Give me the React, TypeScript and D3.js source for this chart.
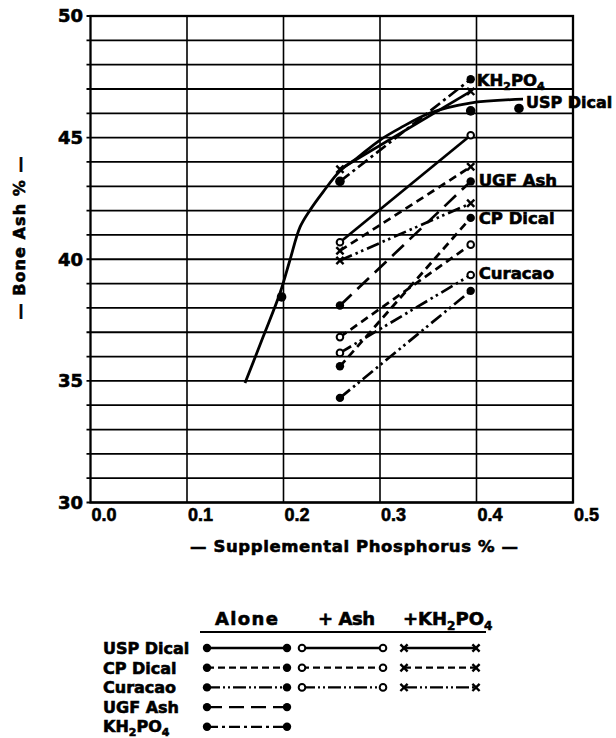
import React from "react";
import * as d3 from "d3";

// ---------- data ----------
const xTicks = [0, 0.1, 0.2, 0.3, 0.4, 0.5];
const xTickLabels = ["0.0", "0.1", "0.2", "0.3", "0.4", "0.5"];
const yTicks = [30, 35, 40, 45, 50];
const yTickLabels = ["30", "35", "40", "45", "50"];

const pLevels = [0.2585, 0.394];

const uspAshValues = [40.7, 45.1];
const uspKhValues = [43.7, 46.9];
const cpAloneValues = [35.6, 41.7];
const cpAshValues = [36.8, 40.6];
const cpKhValues = [40.35, 43.8];
const curAloneValues = [34.3, 38.7];
const curAshValues = [36.15, 39.35];
const curKhValues = [39.95, 42.3];
const ugfAloneValues = [38.1, 43.2];
const khAloneValues = [43.2, 47.4];

const uspAloneX = [0.198, 0.2585, 0.394, 0.444];
const uspAloneY = [38.45, 43.2, 46.1, 46.2];

const uspCurveX = [0.1601, 0.1788, 0.1964, 0.2067, 0.2171, 0.2275, 0.2409, 0.2585, 0.2762, 0.3, 0.3207, 0.3518, 0.3933, 0.4482];
const uspCurveY = [34.91, 36.8, 38.61, 39.97, 41.32, 42.02, 42.76, 43.63, 44.16, 44.9, 45.39, 46.01, 46.42, 46.58];

const sourceNames = ["USP Dical", "CP Dical", "Curacao", "UGF Ash", "KH2PO4"];
const treatmentNames = ["Alone", "+ Ash", "+KH2PO4"];

// ---------- styles ----------
const DASH: Record<string, string> = {
  solid: "",
  dashed: "8,5",
  dashdotdot: "13,4,2.5,3.5,2.5,4",
  longdash: "16,8",
  dashdot: "12,4,3,4",
};
const LEG_DASH: Record<string, string> = {
  solid: "",
  dashed: "7,4",
  dashdotdot: "13,3,2,3,2,3",
  longdash: "15,7",
  dashdot: "11,4,3,4",
};

type Series = { vals: number[]; style: string; marker: "filled" | "open" | "x" };
const series: Series[] = [
  { vals: uspAshValues, style: "solid", marker: "open" },
  { vals: uspKhValues, style: "solid", marker: "x" },
  { vals: cpAloneValues, style: "dashed", marker: "filled" },
  { vals: cpAshValues, style: "dashed", marker: "open" },
  { vals: cpKhValues, style: "dashed", marker: "x" },
  { vals: curAloneValues, style: "dashdotdot", marker: "filled" },
  { vals: curAshValues, style: "dashdotdot", marker: "open" },
  { vals: curKhValues, style: "dashdotdot", marker: "x" },
  { vals: ugfAloneValues, style: "longdash", marker: "filled" },
  { vals: khAloneValues, style: "dashdot", marker: "filled" },
];

const FONT = "'DejaVu Sans', sans-serif";
const FONT2 = "'Liberation Sans', Arial, sans-serif";

function Marker({ x, y, kind, r = 4.2 }: { x: number; y: number; kind: string; r?: number }) {
  if (kind === "filled") return <circle cx={x} cy={y} r={r} fill="#000" />;
  if (kind === "open")
    return <circle cx={x} cy={y} r={r - 0.9} fill="#fff" stroke="#000" strokeWidth={2} />;
  const s = 3.6;
  return (
    <g stroke="#000" strokeWidth={2.4}>
      <line x1={x - s} y1={y - s} x2={x + s} y2={y + s} />
      <line x1={x - s} y1={y + s} x2={x + s} y2={y - s} />
    </g>
  );
}

export default function App() {
  const W = 616;
  const H = 738;
  const x = d3.scaleLinear().domain([0, 0.5]).range([90.5, 573]);
  const y = d3.scaleLinear().domain([30, 50]).range([502.5, 16]);
  const gridY = d3.range(30, 51, 1);

  const curve = d3
    .line<number>()
    .x((_, i) => x(uspCurveX[i]))
    .y((d) => y(d))
    .curve(d3.curveCatmullRom.alpha(0.5));

  const seg = d3
    .line<number>()
    .x((_, i) => x(pLevels[i]))
    .y((d) => y(d));

  // legend geometry
  const legRowY = (i: number) => 648 + i * 19.7;
  const legCols = [
    [207, 287],
    [302, 383],
    [404, 476],
  ];
  const legStyles = ["solid", "dashed", "dashdotdot", "longdash", "dashdot"];
  const legMarkers = ["filled", "open", "x"];
  const legCount = [3, 3, 3, 1, 1];

  const labelX = x(pLevels[1]) + 8;

  return (
    <svg
      width={W}
      height={H}
      style={{ position: "absolute", left: 0, top: 0, background: "#fff" }}
      fontFamily={FONT}
      fontWeight="bold"
    >
      {/* grid */}
      {gridY.map((v) => (
        <line key={"h" + v} x1={x(0) - 4} x2={x(0.5)} y1={y(v)} y2={y(v)} stroke="#000" strokeWidth={1.8} />
      ))}
      {xTicks.slice(1, -1).map((t) => (
        <line key={"v" + t} x1={x(t)} x2={x(t)} y1={y(50)} y2={y(30)} stroke="#000" strokeWidth={1.6} />
      ))}
      <rect x={x(0)} y={y(50)} width={x(0.5) - x(0)} height={y(30) - y(50)} fill="none" stroke="#000" strokeWidth={2.3} />

      <g stroke="#000" strokeWidth={0.6}>
        {/* y ticks */}
        {yTicks.map((t, i) => (
          <text key={"yt" + t} x={83} y={y(t)} dy="0.36em" textAnchor="end" fontSize={18} fontFamily={FONT}>
            {yTickLabels[i]}
          </text>
        ))}
        {/* x ticks */}
        {xTicks.map((t, i) => (
          <text key={"xt" + t} x={x(t) + 1} y={521} textAnchor="start" fontSize={18} fontFamily={FONT2}>
            {xTickLabels[i]}
          </text>
        ))}

        {/* axis titles */}
        <text x={190} y={552} fontSize={16.5} textLength={328} lengthAdjust="spacing">
          — Supplemental  Phosphorus % —
        </text>
        <text transform="translate(25,238) rotate(-90)" textAnchor="middle" fontSize={16} textLength={163} lengthAdjust="spacing">
          — Bone Ash % —
        </text>

        {/* in-plot labels */}
        <text x={labelX - 2} y={y(khAloneValues[1]) + 7} fontSize={16.5}>
          KH<tspan fontSize={11} dy={4}>2</tspan>
          <tspan dy={-4}>PO</tspan>
          <tspan fontSize={11} dy={4}>4</tspan>
        </text>
        <text x={x(uspCurveX[uspCurveX.length - 1]) + 3} y={y(uspCurveY[uspCurveY.length - 1]) + 9} fontSize={16}>
          USP Dical
        </text>
        <text x={labelX} y={y(ugfAloneValues[1]) + 5} fontSize={16.5}>
          UGF Ash
        </text>
        <text x={labelX} y={y(cpAloneValues[1]) + 6} fontSize={16.5}>
          CP Dical
        </text>
        <text x={labelX} y={y(curAshValues[1]) + 4} fontSize={16.5}>
          Curacao
        </text>

        {/* legend header */}
        <text x={215} y={625} fontSize={18} textLength={63} lengthAdjust="spacing">
          {treatmentNames[0]}
        </text>
        <text x={318} y={625} fontSize={18} textLength={57} lengthAdjust="spacing">
          {treatmentNames[1]}
        </text>
        <text x={403} y={625} fontSize={18}>
          +KH<tspan fontSize={12} dy={5}>2</tspan>
          <tspan dy={-5}>PO</tspan>
          <tspan fontSize={12} dy={5}>4</tspan>
        </text>

        {sourceNames.map((name, r) =>
          name === "KH2PO4" ? (
            <text key={"ln" + r} x={103} y={legRowY(r) + 5} fontSize={16}>
              KH<tspan fontSize={11} dy={4}>2</tspan>
              <tspan dy={-4}>PO</tspan>
              <tspan fontSize={11} dy={4}>4</tspan>
            </text>
          ) : (
            <text key={"ln" + r} x={103} y={legRowY(r) + 6} fontSize={16}>
              {name}
            </text>
          )
        )}
      </g>

      {/* USP Dical alone fitted curve */}
      <path d={curve(uspCurveY) || ""} fill="none" stroke="#000" strokeWidth={2.8} />

      {/* series segments */}
      {series.map((s, i) => (
        <path
          key={"s" + i}
          d={seg(s.vals) || ""}
          fill="none"
          stroke="#000"
          strokeWidth={2.7}
          strokeDasharray={DASH[s.style]}
        />
      ))}
      {series.map((s, i) =>
        s.vals.map((v, j) => <Marker key={"m" + i + "-" + j} x={x(pLevels[j])} y={y(v)} kind={s.marker} />)
      )}
      {uspAloneX.map((px, i) => (
        <Marker key={"u" + i} x={x(px)} y={y(uspAloneY[i])} kind="filled" r={4.8} />
      ))}

      {/* legend */}
      <line x1={200} x2={486} y1={632} y2={632} stroke="#000" strokeWidth={2} />
      {sourceNames.map((name, r) => (
        <g key={"lg" + r}>
          {d3.range(legCount[r]).map((c) => (
            <g key={"lc" + c}>
              <line
                x1={legCols[c][0]}
                x2={legCols[c][1]}
                y1={legRowY(r)}
                y2={legRowY(r)}
                stroke="#000"
                strokeWidth={2.3}
                strokeDasharray={LEG_DASH[legStyles[r]]}
              />
              <Marker x={legCols[c][0]} y={legRowY(r)} kind={legMarkers[c]} r={4.2} />
              <Marker x={legCols[c][1]} y={legRowY(r)} kind={legMarkers[c]} r={4.2} />
            </g>
          ))}
        </g>
      ))}
    </svg>
  );
}
